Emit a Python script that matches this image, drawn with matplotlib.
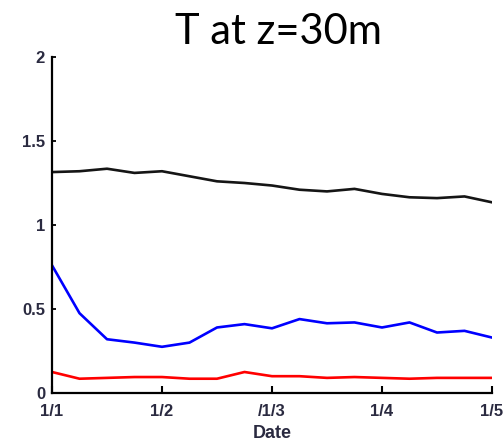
import matplotlib
matplotlib.use("Agg")
import matplotlib.pyplot as plt
import numpy as np

# Time axis in months since 1 January, sampled every quarter month
months = [0, 0.25, 0.5, 0.75, 1, 1.25, 1.5, 1.75, 2, 2.25, 2.5, 2.75, 3, 3.25, 3.5, 3.75, 4]

black_series = [1.315, 1.32, 1.335, 1.31, 1.32, 1.29, 1.26, 1.25, 1.235, 1.21, 1.20,
                1.215, 1.185, 1.165, 1.16, 1.17, 1.135]
blue_series = [0.76, 0.475, 0.32, 0.30, 0.275, 0.30, 0.39, 0.41, 0.385, 0.44, 0.415,
               0.42, 0.39, 0.42, 0.36, 0.37, 0.33]
red_series = [0.125, 0.085, 0.09, 0.095, 0.095, 0.085, 0.085, 0.125, 0.10, 0.10, 0.09,
              0.095, 0.09, 0.085, 0.09, 0.09, 0.09]

x_ticks = [0, 1, 2, 3, 4]
x_ticklabels = ["1/1", "1/2", "/1/3", "1/4", "1/5"]
y_ticks = [0, 0.5, 1, 1.5, 2]
y_ticklabels = ["0", "0.5", "1", "1.5", "2"]

W, H = 504, 448
fig = plt.figure(figsize=(W / 100, H / 100), dpi=100)
ax = fig.add_axes([52 / W, (H - 393) / H, (492 - 52) / W, (393 - 57) / H])

lw = 1.9
ax.plot(months, black_series, color="#151515", lw=lw, solid_joinstyle="round")
ax.plot(months, blue_series, color="#0000ff", lw=lw, solid_joinstyle="round")
ax.plot(months, red_series, color="#ff0000", lw=lw, solid_joinstyle="round")

ax.set_xlim(0, 4)
ax.set_ylim(0, 2)
for s in ("top", "right"):
    ax.spines[s].set_visible(False)
for s in ("left", "bottom"):
    ax.spines[s].set_linewidth(1.6)

tick_font = dict(family="Liberation Sans", size=12, weight="bold")
ax.set_xticks(x_ticks)
ax.set_xticklabels(x_ticklabels, fontdict=tick_font)
ax.set_yticks(y_ticks)
ax.set_yticklabels(y_ticklabels, fontdict=tick_font)
ax.tick_params(axis="x", direction="in", length=5, width=1.5, pad=8, colors="#2a2a40")
ax.tick_params(axis="y", direction="in", length=3, width=1.3, pad=5, colors="#2a2a40")
ax.tick_params(axis="both", color="black")

ax.set_xlabel("Date", fontdict=dict(family="Liberation Sans", size=13, weight="bold",
                                    color="#2a2a40"), labelpad=4)

fig.text(278.5 / W, (H - 44) / H, "T at z=30m", ha="center", va="baseline",
         family="Lato", fontsize=30, color="black")

fig.savefig("out.png", dpi=100)
